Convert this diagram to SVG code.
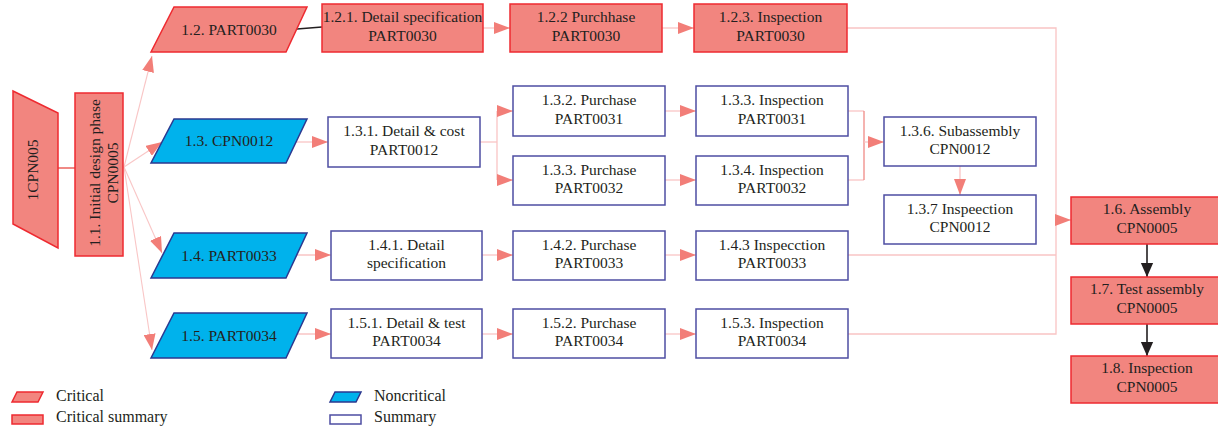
<svg xmlns="http://www.w3.org/2000/svg" width="1218" height="430" viewBox="0 0 1218 430">
<defs>
<style>
text{font-family:"Liberation Serif","Times New Roman",serif;font-size:15.5px;fill:#231F20;text-anchor:middle}
.leg{text-anchor:start;font-size:16px}
.crit{fill:#F2857F;stroke:#EE2A30;stroke-width:1.5}
.nonc{fill:#00B2EC;stroke:#2B3990;stroke-width:1.5}
.summ{fill:#FFFFFF;stroke:#4E4EA2;stroke-width:1.5}
.con{fill:none;stroke:#F9C4C4;stroke-width:1.3}
.conf{fill:none;stroke:#F9C6C6;stroke-width:1.1}
.dark{fill:none;stroke:#F08A86;stroke-width:1.3}
.blk{fill:none;stroke:#231F20;stroke-width:1.6}
</style>
<marker id="ah" markerUnits="userSpaceOnUse" markerWidth="16" markerHeight="12" refX="16" refY="6" orient="auto">
<path d="M0,0 L16,6 L0,12 z" fill="#F27E78"/>
</marker>
<marker id="bh" markerUnits="userSpaceOnUse" markerWidth="14" markerHeight="16" refX="16" refY="7" orient="auto" viewBox="0 0 16 14">
<path d="M0,0 L16,7 L0,14 z" fill="#231F20"/>
</marker>
</defs>

<g id="connectors">
<line x1="58" y1="168" x2="75" y2="168" stroke="#F08A86" stroke-width="2"/>
<line class="conf" x1="124" y1="167" x2="152" y2="56" marker-end="url(#ah)"/>
<line class="conf" x1="124" y1="167" x2="162" y2="142" marker-end="url(#ah)"/>
<line class="conf" x1="124" y1="167" x2="162" y2="253" marker-end="url(#ah)"/>
<line class="conf" x1="124" y1="167" x2="152" y2="350" marker-end="url(#ah)"/>
<line class="blk" x1="297" y1="29" x2="322" y2="27"/>
<line class="con" x1="483" y1="28" x2="510" y2="28" marker-end="url(#ah)"/>
<line class="con" x1="662" y1="28" x2="694" y2="28" marker-end="url(#ah)"/>
<line class="con" x1="296" y1="142" x2="328" y2="142" marker-end="url(#ah)"/>
<polyline class="con" points="480,142 497,142"/>
<line class="con" x1="497" y1="111" x2="497" y2="180"/>
<line class="con" x1="497" y1="111" x2="513" y2="111" marker-end="url(#ah)"/>
<line class="con" x1="497" y1="180" x2="513" y2="180" marker-end="url(#ah)"/>
<line class="con" x1="665" y1="111" x2="696" y2="111" marker-end="url(#ah)"/>
<line class="con" x1="665" y1="180" x2="696" y2="180" marker-end="url(#ah)"/>
<polyline class="con" points="848,111 864,111"/>
<polyline class="con" points="848,180 864,180"/>
<line class="dark" x1="864" y1="111" x2="864" y2="180"/>
<line class="con" x1="864" y1="142" x2="884" y2="142" marker-end="url(#ah)"/>
<line class="con" x1="960" y1="166" x2="960" y2="195" marker-end="url(#ah)"/>
<line class="con" x1="297" y1="255" x2="331" y2="255" marker-end="url(#ah)"/>
<line class="con" x1="482" y1="255" x2="513" y2="255" marker-end="url(#ah)"/>
<line class="con" x1="665" y1="255" x2="696" y2="255" marker-end="url(#ah)"/>
<line class="con" x1="297" y1="334" x2="331" y2="334" marker-end="url(#ah)"/>
<line class="con" x1="482" y1="334" x2="513" y2="334" marker-end="url(#ah)"/>
<line class="con" x1="665" y1="334" x2="696" y2="334" marker-end="url(#ah)"/>
<polyline class="con" points="847,28 1056,28 1056,334 848,334"/>
<line class="con" x1="848" y1="255" x2="1056" y2="255"/>
<line class="con" x1="1056" y1="220" x2="1071" y2="220" marker-end="url(#ah)"/>
<line class="blk" x1="1147" y1="244" x2="1147" y2="277" marker-end="url(#bh)"/>
<line class="blk" x1="1147" y1="324" x2="1147" y2="356" marker-end="url(#bh)"/>
</g>

<g id="n1"><polygon class="crit" points="13,91 58,113 58,248 13,224"/><text transform="translate(38,170) rotate(-90)">1CPN005</text></g>
<g id="n1_1"><rect class="crit" x="75" y="93" width="48" height="163"/><text transform="translate(100,173) rotate(-90)">1.1. Initial design phase</text><text transform="translate(118,173) rotate(-90)">CPN0005</text></g>

<g id="n1_2"><polygon class="crit" points="174,7 307,7 286,52 151,52"/><text x="229" y="35">1.2. PART0030</text></g>
<g id="n1_3"><polygon class="nonc" points="174,119 307,119 286,163 151,163"/><text x="229" y="146">1.3. CPN0012</text></g>
<g id="n1_4"><polygon class="nonc" points="174,233 307,233 286,278 151,278"/><text x="229" y="261">1.4. PART0033</text></g>
<g id="n1_5"><polygon class="nonc" points="174,313 307,313 286,358 151,358"/><text x="229" y="341">1.5. PART0034</text></g>

<g id="n1_2_1"><rect class="crit" x="322" y="4" width="161" height="48"/><text x="402.5" y="22">1.2.1. Detail specification</text><text x="402.5" y="40.5">PART0030</text></g>
<g id="n1_2_2"><rect class="crit" x="510" y="4" width="152" height="48"/><text x="586" y="22">1.2.2 Purchhase</text><text x="586" y="40.5">PART0030</text></g>
<g id="n1_2_3"><rect class="crit" x="694" y="4" width="153" height="48"/><text x="770.5" y="22">1.2.3. Inspection</text><text x="770.5" y="40.5">PART0030</text></g>

<g id="n1_3_1"><rect class="summ" x="328" y="117" width="152" height="50"/><text x="404" y="136">1.3.1. Detail &amp; cost</text><text x="404" y="154.5">PART0012</text></g>
<g id="n1_3_2"><rect class="summ" x="513" y="86" width="152" height="50"/><text x="589" y="105">1.3.2. Purchase</text><text x="589" y="123.5">PART0031</text></g>
<g id="n1_3_3p"><rect class="summ" x="513" y="156" width="152" height="49"/><text x="589" y="174.5">1.3.3. Purchase</text><text x="589" y="193">PART0032</text></g>
<g id="n1_3_3i"><rect class="summ" x="696" y="86" width="152" height="50"/><text x="772" y="105">1.3.3. Inspection</text><text x="772" y="123.5">PART0031</text></g>
<g id="n1_3_4"><rect class="summ" x="696" y="156" width="152" height="49"/><text x="772" y="174.5">1.3.4. Inspection</text><text x="772" y="193">PART0032</text></g>
<g id="n1_3_6"><rect class="summ" x="884" y="117" width="152" height="49"/><text x="960" y="135.5">1.3.6. Subassembly</text><text x="960" y="154">CPN0012</text></g>
<g id="n1_3_7"><rect class="summ" x="884" y="195" width="152" height="49"/><text x="960" y="213.5">1.3.7 Inspeection</text><text x="960" y="232">CPN0012</text></g>

<g id="n1_4_1"><rect class="summ" x="331" y="231" width="151" height="49"/><text x="406.5" y="249.5">1.4.1. Detail</text><text x="406.5" y="268">specification</text></g>
<g id="n1_4_2"><rect class="summ" x="513" y="231" width="152" height="49"/><text x="589" y="249.5">1.4.2. Purchase</text><text x="589" y="268">PART0033</text></g>
<g id="n1_4_3"><rect class="summ" x="696" y="231" width="152" height="49"/><text x="772" y="249.5">1.4.3 Inspecction</text><text x="772" y="268">PART0033</text></g>

<g id="n1_5_1"><rect class="summ" x="331" y="309" width="151" height="49"/><text x="406.5" y="327.5">1.5.1. Detail &amp; test</text><text x="406.5" y="346">PART0034</text></g>
<g id="n1_5_2"><rect class="summ" x="513" y="309" width="152" height="49"/><text x="589" y="327.5">1.5.2. Purchase</text><text x="589" y="346">PART0034</text></g>
<g id="n1_5_3"><rect class="summ" x="696" y="309" width="152" height="49"/><text x="772" y="327.5">1.5.3. Inspection</text><text x="772" y="346">PART0034</text></g>

<g id="n1_6"><rect class="crit" x="1071" y="197" width="152" height="47"/><text x="1147" y="214">1.6. Assembly</text><text x="1147" y="233">CPN0005</text></g>
<g id="n1_7"><rect class="crit" x="1071" y="277" width="152" height="47"/><text x="1147" y="294">1.7. Test assembly</text><text x="1147" y="313">CPN0005</text></g>
<g id="n1_8"><rect class="crit" x="1071" y="356" width="152" height="47"/><text x="1147" y="373">1.8. Inspection</text><text x="1147" y="392">CPN0005</text></g>

<g id="legend">
<polygon class="crit" points="17,392 43,392 38,402 12,402"/><text class="leg" x="56" y="401">Critical</text>
<rect class="crit" x="12" y="415" width="31" height="9"/><text class="leg" x="56" y="422">Critical summary</text>
<polygon class="nonc" points="335,392 361,392 356,402 330,402"/><text class="leg" x="374" y="401">Noncritical</text>
<rect class="summ" x="330" y="415" width="31" height="9"/><text class="leg" x="374" y="422">Summary</text>
</g>
</svg>
